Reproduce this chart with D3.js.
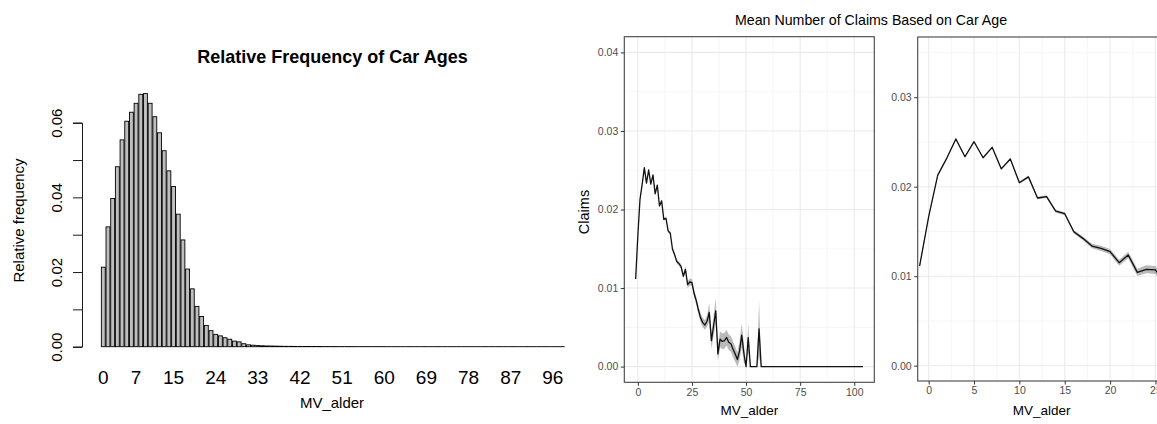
<!DOCTYPE html>
<html>
<head>
<meta charset="utf-8">
<script src="https://cdn.jsdelivr.net/npm/d3@7"></script>
<style>
  body { margin: 0; background: #fff; }
  svg { display: block; }
  text { font-family: "Liberation Sans", Arial, Helvetica, sans-serif; }
</style>
</head>
<body>
<svg id="chart" width="1157" height="424"></svg>
<script>
// ---- Relative frequency of vehicle age (MV_alder = 0 .. 98) ----
const freqAges = [
  0,1,2,3,4,5,6,7,8,9,10,11,12,13,14,15,16,17,18,19,20,21,22,23,24,25,26,27,28,29,
  30,31,32,33,34,35,36,37,38,39,40,41,42,43,44,45,46,47,48,49,50,51,52,53,54,55,56,57,58,59,
  60,61,62,63,64,65,66,67,68,69,70,71,72,73,74,75,76,77,78,79,80,81,82,83,84,85,86,87,88,89,
  90,91,92,93,94,95,96,97,98
];
const freqValues = [
  0.0213,0.0321,0.0397,0.0482,0.0554,0.0604,0.0628,0.0652,0.0676,0.0678,
  0.0652,0.0616,0.0573,0.0525,0.0471,0.0429,0.0355,0.0286,0.0208,0.0155,
  0.0108,0.0081,0.0057,0.0043,0.0033,0.0029,0.0024,0.0020,0.0015,0.0013,
  0.0008,0.0005,0.0004,0.0003,0.00025,0.0002,0.00018,0.00015,0.00012,0.0001,
  0.00009,0.00008,0.00007,0.00006,0.00006,0.00005,0.00005,0.00004,0.00004,0.00004,
  0.00003,0.00003,0.00003,0.00003,0.00002,0.00002,0.00002,0.00002,0.00002,0.00002,
  0.00002,0.00001,0.00001,0.00001,0.00001,0.00001,0.00001,0.00001,0.00001,0.00001,
  0.00001,0.00001,0.00001,0.00001,0.00001,0.00001,0.00001,0.00001,0.00001,0.00001,
  0.00001,0.00001,0.00001,0.00001,0.00001,0.00001,0.00001,0.00001,0.00001,0.00001,
  0.00001,0.00001,0.00001,0.00001,0.00001,0.00001,0.00001,0.00001,0.00001
];
const freqXLabels = [0, 7, 15, 24, 33, 42, 51, 60, 69, 78, 87, 96];
const freqYTicks = [0, 0.01, 0.02, 0.03, 0.04, 0.05, 0.06];
const freqYLabels = [0, 0.02, 0.04, 0.06];

// ---- Mean number of claims by vehicle age (MV_alder = -1 .. 104) ----
const claimAges = [
  -1,0,1,2,3,4,5,6,7,8,9,10,11,12,13,14,15,16,17,18,19,20,21,22,23,24,25,26,27,28,29,
  30,31,32,33,34,35,36,37,38,39,40,41,42,43,44,45,46,47,48,49,50,51,52,53,54,55,56,57,58,59,
  60,61,62,63,64,65,66,67,68,69,70,71,72,73,74,75,76,77,78,79,80,81,82,83,84,85,86,87,88,89,
  90,91,92,93,94,95,96,97,98,99,100,101,102,103,104
];
const claimMeans = [
  0.01114,0.01665,0.0213,0.0232,0.02533,0.02335,0.02503,0.02324,0.0244,0.0220,0.0231,
  0.02045,0.0211,0.01874,0.01889,0.01728,0.01698,0.01497,0.01423,0.01337,0.01311,
  0.01274,0.01151,0.01237,0.01043,0.01077,0.0107,0.0093,0.0084,0.0072,0.0062,
  0.0056,0.0053,0.0058,0.0069,0.0033,0.0052,0.0071,0.0016,0.0035,0.0032,
  0.0033,0.0037,0.0031,0.0029,0.0022,0.0016,0.0009,0.0020,0.0040,0.0017,
  0,0.0037,0,0,0,0,0.0048,0,0,0,
  0,0,0,0,0,0,0,0,0,0,
  0,0,0,0,0,0,0,0,0,0,
  0,0,0,0,0,0,0,0,0,0,
  0,0,0,0,0,0,0,0,0,0,
  0,0,0,0,0
];
// half-width of the confidence band around each mean
const claimBand = [
  0.0003,0.00012,0.0001,0.0001,0.0001,0.0001,0.0001,0.0001,0.0001,0.00012,0.00012,
  0.00013,0.00014,0.00015,0.00016,0.00017,0.00018,0.0002,0.00022,0.00025,0.00028,
  0.0003,0.00033,0.00036,0.0004,0.00045,0.00045,0.0005,0.0005,0.00055,0.0006,
  0.0006,0.0006,0.0007,0.0012,0.0010,0.0013,0.0016,0.0009,0.0010,0.0010,
  0.0010,0.0010,0.0010,0.0010,0.0010,0.0010,0.0009,0.0012,0.0015,0.0012,
  0,0.0018,0,0,0,0,0.0036,0,0,0,
  0,0,0,0,0,0,0,0,0,0,
  0,0,0,0,0,0,0,0,0,0,
  0,0,0,0,0,0,0,0,0,0,
  0,0,0,0,0,0,0,0,0,0,
  0,0,0,0,0
];
const claimsFullXTicks = [0, 25, 50, 75, 100];
const claimsFullYTicks = [0, 0.01, 0.02, 0.03, 0.04];
const claimsZoomXTicks = [0, 5, 10, 15, 20, 25];
const claimsZoomYTicks = [0, 0.01, 0.02, 0.03];

const svg = d3.select("#chart");
const claimRows = claimAges.map((a, i) => ({ age: a, mean: claimMeans[i], band: claimBand[i] }));

// ================= Left: bar chart of relative frequencies =================
{
  const step = 4.683, firstCenter = 103.3;
  const x = d3.scaleBand()
    .domain(freqAges)
    .range([firstCenter - step / 2, firstCenter - step / 2 + step * freqAges.length])
    .paddingInner(1 / 6)
    .paddingOuter(1 / 12);
  const y = d3.scaleLinear().domain([0, 0.06]).range([346.7, 122.7]);

  const g = svg.append("g");
  g.selectAll("rect.bar")
    .data(freqAges.map((a, i) => ({ age: a, v: freqValues[i] })))
    .join("rect")
    .attr("class", "bar")
    .attr("x", d => x(d.age))
    .attr("width", x.bandwidth())
    .attr("y", d => y(d.v))
    .attr("height", d => y(0) - y(d.v))
    .attr("fill", "#bebebe")
    .attr("stroke", "#000")
    .attr("stroke-width", 0.9);

  // category labels under the bars
  const xAxis = g.append("g")
    .attr("transform", "translate(0,370)")
    .call(d3.axisBottom(x).tickValues(freqXLabels).tickSize(0).tickPadding(0));
  xAxis.select(".domain").remove();
  xAxis.selectAll("text")
    .attr("font-size", 19)
    .attr("fill", "#000")
    .style("font-family", "'Liberation Sans', Arial, sans-serif");

  // frequency axis with rotated labels
  const yAxis = g.append("g")
    .attr("transform", "translate(82,0)")
    .call(d3.axisLeft(y).tickValues(freqYTicks).tickSize(9)
      .tickFormat(d => freqYLabels.some(l => Math.abs(l - d) < 1e-9) ? d3.format(".2f")(d) : ""));
  yAxis.selectAll("path, line").attr("stroke", "#000").attr("stroke-width", 0.9);
  yAxis.selectAll("text")
    .attr("x", 0).attr("y", -20).attr("dy", 0)
    .attr("text-anchor", "middle")
    .attr("transform", "rotate(-90)")
    .attr("font-size", 15)
    .attr("fill", "#000")
    .style("font-family", "'Liberation Sans', Arial, sans-serif");

  g.append("text")
    .attr("x", 332.5).attr("y", 63)
    .attr("text-anchor", "middle")
    .attr("font-size", 18).attr("font-weight", "bold")
    .text("Relative Frequency of Car Ages");
  g.append("text")
    .attr("x", 332).attr("y", 408)
    .attr("text-anchor", "middle")
    .attr("font-size", 15)
    .text("MV_alder");
  g.append("text")
    .attr("transform", "translate(24,220.5) rotate(-90)")
    .attr("text-anchor", "middle")
    .attr("font-size", 15)
    .text("Relative frequency");
}

// ================= Right: mean claims panels (ggplot-style) =================
function claimsPanel(opts) {
  const { left, right, top, bottom, xDomain, yDomain, xTicks, yTicks, xMinor, yMinor, clipId } = opts;
  const x = d3.scaleLinear().domain(xDomain).range([left, right]);
  const y = d3.scaleLinear().domain(yDomain).range([bottom, top]);
  const g = svg.append("g");

  g.append("clipPath").attr("id", clipId)
    .append("rect").attr("x", left).attr("y", top)
    .attr("width", right - left).attr("height", bottom - top);

  const grid = g.append("g").attr("clip-path", `url(#${clipId})`);
  grid.selectAll("line.xminor").data(xMinor).join("line")
    .attr("x1", d => x(d)).attr("x2", d => x(d)).attr("y1", top).attr("y2", bottom)
    .attr("stroke", "#f0f0f0").attr("stroke-width", 0.6);
  grid.selectAll("line.yminor").data(yMinor).join("line")
    .attr("y1", d => y(d)).attr("y2", d => y(d)).attr("x1", left).attr("x2", right)
    .attr("stroke", "#f0f0f0").attr("stroke-width", 0.6);
  grid.selectAll("line.xmajor").data(xTicks).join("line")
    .attr("x1", d => x(d)).attr("x2", d => x(d)).attr("y1", top).attr("y2", bottom)
    .attr("stroke", "#ebebeb").attr("stroke-width", 1.1);
  grid.selectAll("line.ymajor").data(yTicks).join("line")
    .attr("y1", d => y(d)).attr("y2", d => y(d)).attr("x1", left).attr("x2", right)
    .attr("stroke", "#ebebeb").attr("stroke-width", 1.1);

  const marks = g.append("g").attr("clip-path", `url(#${clipId})`);
  marks.append("path")
    .datum(claimRows)
    .attr("d", d3.area().x(d => x(d.age)).y0(d => y(d.mean - d.band)).y1(d => y(d.mean + d.band)))
    .attr("fill", "#8c8c8c").attr("opacity", 0.6);
  marks.append("path")
    .datum(claimRows)
    .attr("d", d3.line().x(d => x(d.age)).y(d => y(d.mean)))
    .attr("fill", "none").attr("stroke", "#111").attr("stroke-width", 1.3)
    .attr("stroke-linejoin", "round");

  g.append("rect").attr("x", left).attr("y", top)
    .attr("width", right - left).attr("height", bottom - top)
    .attr("fill", "none").attr("stroke", "#444").attr("stroke-width", 1.1);

  const ax = g.append("g").attr("transform", `translate(0,${bottom})`)
    .call(d3.axisBottom(x).tickValues(xTicks).tickSize(3.5).tickPadding(2.5).tickFormat(d3.format("d")));
  const ay = g.append("g").attr("transform", `translate(${left},0)`)
    .call(d3.axisLeft(y).tickValues(yTicks).tickSize(3.5).tickPadding(2.5).tickFormat(d3.format(".2f")));
  [ax, ay].forEach(a => {
    a.select(".domain").remove();
    a.selectAll("line").attr("stroke", "#333").attr("stroke-width", 1);
    a.selectAll("text").attr("fill", "#4d4d4d").attr("font-size", 10.5)
      .style("font-family", "'Liberation Sans', Arial, sans-serif");
  });

  g.append("text")
    .attr("x", (left + right) / 2).attr("y", 415)
    .attr("text-anchor", "middle").attr("font-size", 13.5).attr("fill", "#000")
    .text("MV_alder");
  return { x, y, g };
}

const full = claimsPanel({
  left: 624.3, right: 874.3, top: 36.7, bottom: 382.3,
  xDomain: [-6.25, 109.25], yDomain: [-0.002, 0.042],
  xTicks: claimsFullXTicks, yTicks: claimsFullYTicks,
  xMinor: [-12.5, 12.5, 37.5, 62.5, 87.5], yMinor: [0.005, 0.015, 0.025, 0.035],
  clipId: "clip-full"
});
full.g.append("text")
  .attr("transform", "translate(589,212) rotate(-90)")
  .attr("text-anchor", "middle").attr("font-size", 14.5).attr("fill", "#000")
  .text("Claims");

claimsPanel({
  left: 917.7, right: 1165.7, top: 37, bottom: 381,
  xDomain: [-1.21, 26.13], yDomain: [-0.00171, 0.03673],
  xTicks: claimsZoomXTicks, yTicks: claimsZoomYTicks,
  xMinor: [2.5, 7.5, 12.5, 17.5, 22.5], yMinor: [0.005, 0.015, 0.025, 0.035],
  clipId: "clip-zoom"
});

svg.append("text")
  .attr("x", 735).attr("y", 25)
  .attr("font-size", 14.2).attr("fill", "#000")
  .text("Mean Number of Claims Based on Car Age");
</script>
</body>
</html>
